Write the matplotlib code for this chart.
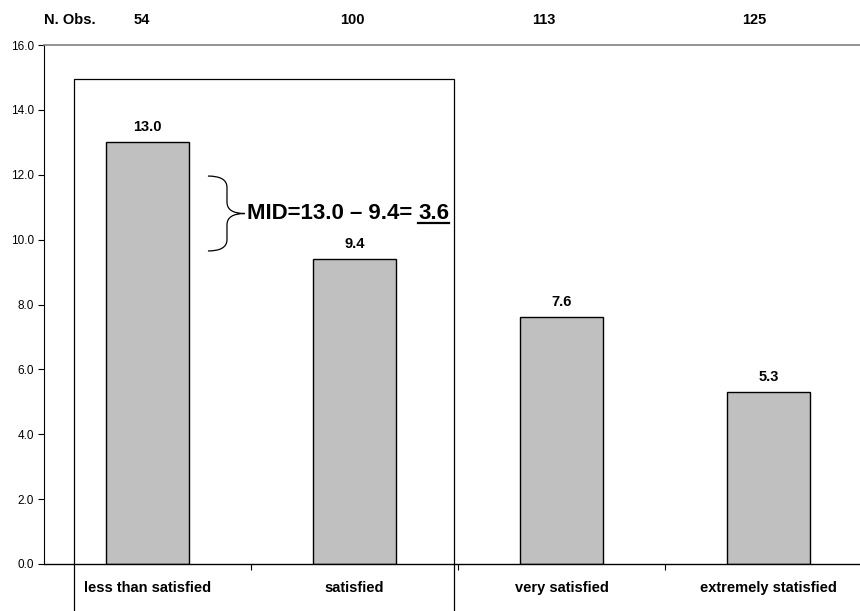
import matplotlib
matplotlib.use('Agg')
import matplotlib.pyplot as plt
from matplotlib.patches import Rectangle, PathPatch
from matplotlib.path import Path
import matplotlib.transforms as mtransforms
import numpy as np

categories = ['less than satisfied', 'satisfied', 'very satisfied', 'extremely statisfied']
values = [13.0, 9.4, 7.6, 5.3]
n_obs = [54, 100, 113, 125]
mid_text = 'MID=13.0 \u2013 9.4= '
mid_value = '3.6'

plt.rcParams['font.family'] = ['Liberation Sans', 'DejaVu Sans']


def main():
    fig = plt.figure(figsize=(8.6, 6.11), dpi=100)
    ax = fig.add_axes([44 / 860, 1 - 564 / 611, 828 / 860, 519 / 611])

    x = np.arange(len(categories))
    ax.bar(x, values, width=0.40, color='#c0c0c0', edgecolor='black', linewidth=1.0, zorder=2)

    for xi, v in zip(x, values):
        ax.annotate('%.1f' % v, (xi, v), xytext=(0, 6), textcoords='offset points',
                    ha='center', va='bottom', fontsize=10.5, fontweight='bold')

    ax.set_xlim(-0.5, len(categories) - 0.5)
    ax.set_ylim(0, 16)
    ax.set_yticks(np.arange(0, 16.1, 2))
    ax.set_yticklabels(['%.1f' % t for t in np.arange(0, 16.1, 2)], fontsize=8.5)
    ax.set_xticks(x)
    ax.set_xticklabels(categories, fontsize=10.5, fontweight='bold')
    ax.set_xticks(np.arange(0.5, len(categories) - 0.5, 1), minor=True)
    ax.tick_params(axis='x', which='major', length=0, pad=12)
    ax.tick_params(axis='x', which='minor', length=4, width=0.8, direction='out')
    ax.tick_params(axis='y', length=4, width=0.8, pad=3)

    ax.spines['right'].set_visible(False)
    ax.spines['top'].set_color('#808080')
    ax.spines['top'].set_linewidth(1.2)
    ax.spines['left'].set_linewidth(0.8)
    ax.spines['bottom'].set_linewidth(1.0)

    # N. Obs. row above the plot (typed text, not exactly centred on the bars)
    obs_shift = [-0.03, -0.01, -0.085, -0.07]
    trans = mtransforms.blended_transform_factory(ax.transData, ax.transAxes)
    for xi, n, s in zip(x, n_obs, obs_shift):
        ax.text(xi + s, 1.048, str(n), transform=trans, ha='center', va='center',
                fontsize=10.5, fontweight='bold')
    fig.text(44 / 860, 1 - 20 / 611, 'N. Obs.', ha='left', va='center',
             fontsize=10.5, fontweight='bold')

    # box around the first two bars
    box = Rectangle((-0.357, -3), 1.837, 17.95, fill=False, edgecolor='black',
                    linewidth=0.9, clip_on=False, zorder=3)
    ax.add_patch(box)

    # curly brace
    top, bot = 11.96, 9.65
    mid = (top + bot) / 2
    x0, x1, xt = 0.292, 0.384, 0.47
    verts = [
        (x0, top),
        (x1, top), (x1, top - 0.35),
        (x1, mid + 0.35),
        (x1, mid), (xt, mid),
        (x1, mid), (x1, mid - 0.35),
        (x1, bot + 0.35),
        (x1, bot), (x0, bot),
    ]
    codes = [Path.MOVETO,
             Path.CURVE3, Path.CURVE3,
             Path.LINETO,
             Path.CURVE3, Path.CURVE3,
             Path.CURVE3, Path.CURVE3,
             Path.LINETO,
             Path.CURVE3, Path.CURVE3]
    ax.add_patch(PathPatch(Path(verts, codes), fill=False, edgecolor='black',
                           linewidth=0.9, zorder=3))

    t1 = ax.text(0.48, 10.79, mid_text, ha='left', va='center', fontsize=16,
                 fontweight='bold', zorder=4)
    fig.canvas.draw()
    r = fig.canvas.get_renderer()
    bb = t1.get_window_extent(r)
    t2 = fig.text(bb.x1 / fig.dpi / 8.6, (bb.y0 + bb.y1) / 2 / fig.dpi / 6.11, mid_value,
                  ha='left', va='center', fontsize=16, fontweight='bold')
    fig.canvas.draw()
    bb2 = t2.get_window_extent(r)
    uy = (bb2.y0 + 1) / (fig.dpi * 6.11)
    fig.add_artist(plt.Line2D([bb2.x0 / 860, bb2.x1 / 860], [uy, uy], color='black', linewidth=1.6))

    fig.savefig('out.png', dpi=100)


if __name__ == '__main__':
    main()
